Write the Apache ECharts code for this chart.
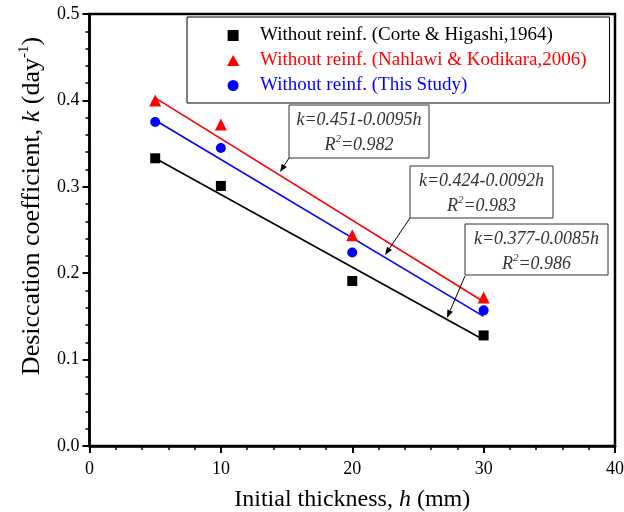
<!DOCTYPE html>
<html>
<head>
<meta charset="utf-8">
<script src="https://cdn.jsdelivr.net/npm/echarts@6/dist/echarts.min.js"></script>
<style>html,body{margin:0;padding:0;background:#fff;}#c{width:624px;height:512px;}</style>
</head>
<body>
<div id="c"></div>
<script>
// ---- data ----
const thickness = [5, 10, 20, 30];
const corteK    = [0.333, 0.301, 0.191, 0.128];
const nahlawiK  = [0.400, 0.372, 0.244, 0.172];
const studyK    = [0.375, 0.345, 0.224, 0.157];
const fitX      = [5, 30];
const corteFit   = [0.333, 0.123];
const nahlawiFit = [0.403, 0.167];
const studyFit   = [0.377, 0.150];
const seriesNames = [
  'Without reinf. (Corte & Higashi,1964)',
  'Without reinf. (Nahlawi & Kodikara,2006)',
  'Without reinf. (This Study)'
];
const eqLines = ['k=0.451-0.0095h', 'k=0.424-0.0092h', 'k=0.377-0.0085h'];
const r2Values = ['0.982', '0.983', '0.986'];
const xTicks = [0, 10, 20, 30, 40];
const yTicks = [0.0, 0.1, 0.2, 0.3, 0.4, 0.5];

const FONT = '"Liberation Serif", "Times New Roman", serif';
const colors = ['#000000', '#ff0000', '#0000ff'];
const pair = (xs, ys) => xs.map((x, i) => [x, ys[i]]);

const chart = echarts.init(document.getElementById('c'), null, {renderer: 'canvas'});

// annotation boxes (pixel layout)
const boxes = [
  {x: 289, y: 105, w: 140, h: 53, from: [289, 158], to: [280, 172]},
  {x: 410, y: 166, w: 143, h: 52, from: [410, 218], to: [385, 255]},
  {x: 465, y: 224, w: 143, h: 51, from: [465, 276], to: [447, 318]}
];
const graphics = [];
boxes.forEach((b, i) => {
  graphics.push({type: 'rect', shape: {x: b.x, y: b.y, width: b.w, height: b.h},
    style: {fill: '#fff', stroke: '#333', lineWidth: 1}, z: 10});
  graphics.push({type: 'text', x: b.x + b.w / 2, y: b.y + 15, z: 11,
    style: {text: eqLines[i], fontFamily: FONT, fontSize: 18, fontStyle: 'italic', fill: '#333',
      align: 'center', verticalAlign: 'middle'}});
  graphics.push({type: 'text', x: b.x + b.w / 2, y: b.y + 39, z: 11,
    style: {text: '{n|R}{s|2}{n|=' + r2Values[i] + '}', align: 'center', verticalAlign: 'middle',
      rich: {
        n: {fontFamily: FONT, fontSize: 18, fontStyle: 'italic', fill: '#333', color: '#333', lineHeight: 20, verticalAlign: 'bottom'},
        s: {fontFamily: FONT, fontSize: 11, fontStyle: 'italic', fill: '#333', color: '#333', lineHeight: 20, verticalAlign: 'top'}
      }}});
  // arrow
  const [x1, y1] = b.from, [x2, y2] = b.to;
  const dx = x2 - x1, dy = y2 - y1, L = Math.sqrt(dx * dx + dy * dy);
  const ux = dx / L, uy = dy / L, hl = 8, hw = 3;
  const bx = x2 - ux * hl, by = y2 - uy * hl;
  graphics.push({type: 'line', shape: {x1: x1, y1: y1, x2: bx, y2: by}, style: {stroke: '#000', lineWidth: 1}, z: 12});
  graphics.push({type: 'polygon', shape: {points: [[x2, y2], [bx - uy * hw, by + ux * hw], [bx + uy * hw, by - ux * hw]]},
    style: {fill: '#000'}, z: 12});
});
// y axis title
graphics.push({type: 'text', x: 31, y: 206, rotation: Math.PI / 2, z: 5,
  style: {text: '{n|Desiccation coefficient, }{i|k}{n| (day}{s|-1}{n|)}', align: 'center', verticalAlign: 'middle',
    rich: {
      n: {fontFamily: FONT, fontSize: 26, color: '#000', fill: '#000', lineHeight: 28, verticalAlign: 'bottom'},
      i: {fontFamily: FONT, fontSize: 26, fontStyle: 'italic', color: '#000', fill: '#000', lineHeight: 28, verticalAlign: 'bottom'},
      s: {fontFamily: FONT, fontSize: 15, color: '#000', fill: '#000', lineHeight: 28, verticalAlign: 'top'}
    }}});

const scatterSymbols = ['rect', 'triangle', 'circle'];
const scatterSizes = [10, 12, 10];
const scatterData = [corteK, nahlawiK, studyK];
const fitData = [corteFit, nahlawiFit, studyFit];
const legendIcons = ['path://M0,0L10,0L10,10L0,10Z', 'path://M5,0L10,9L0,9Z', 'circle'];

const series = [];
fitData.forEach((f, i) => {
  series.push({type: 'line', name: 'fit' + i, data: pair(fitX, f), symbol: 'none',
    lineStyle: {color: colors[i], width: 1.6}, silent: true, z: 2, animation: false});
});
scatterData.forEach((d, i) => {
  series.push({type: 'scatter', name: seriesNames[i], data: pair(thickness, d),
    symbol: scatterSymbols[i], symbolSize: scatterSizes[i],
    itemStyle: {color: colors[i], opacity: 1}, z: 3, animation: false});
});

chart.setOption({
  animation: false,
  backgroundColor: '#fff',
  grid: {left: 89.5, right: 9, top: 14, bottom: 66, show: true, borderColor: '#000', borderWidth: 2.5,
    containLabel: false, outerBoundsMode: 'none'},
  legend: {
    left: 187, top: 17, orient: 'vertical',
    data: seriesNames.map((n, i) => ({name: n, icon: legendIcons[i], textStyle: {color: colors[i]}})),
    itemWidth: 44, itemHeight: 11, itemGap: 6,
    padding: [9, 23, 8, 40],
    borderColor: '#000', borderWidth: 1, backgroundColor: '#fff',
    textStyle: {fontFamily: FONT, fontSize: 19, lineHeight: 19},
    selectedMode: false, z: 20
  },
  xAxis: {
    type: 'value', min: xTicks[0], max: xTicks[xTicks.length - 1], interval: 10,
    name: 'Initial thickness, {i|h} (mm)', nameLocation: 'middle', nameGap: 42,
    nameTextStyle: {fontFamily: FONT, fontSize: 24, color: '#000',
      rich: {i: {fontFamily: FONT, fontSize: 24, fontStyle: 'italic', color: '#000'}}},
    axisLine: {show: true, onZero: false, lineStyle: {color: '#000', width: 2.5}},
    axisTick: {show: true, inside: false, length: 7, lineStyle: {color: '#000', width: 2}},
    minorTick: {show: true, splitNumber: 5, length: 4, lineStyle: {color: '#000', width: 1.5}},
    splitLine: {show: false}, minorSplitLine: {show: false},
    axisLabel: {fontFamily: FONT, fontSize: 18, color: '#000', margin: 14,
      formatter: v => xTicks.includes(v) ? String(v) : ''}
  },
  yAxis: {
    type: 'value', min: yTicks[0], max: yTicks[yTicks.length - 1], interval: 0.1,
    axisLine: {show: true, onZero: false, lineStyle: {color: '#000', width: 2.5}},
    axisTick: {show: true, inside: false, length: 7, lineStyle: {color: '#000', width: 2}},
    minorTick: {show: true, splitNumber: 5, length: 4, lineStyle: {color: '#000', width: 1.5}},
    splitLine: {show: false}, minorSplitLine: {show: false},
    axisLabel: {fontFamily: FONT, fontSize: 18, color: '#000', margin: 10,
      formatter: v => v.toFixed(1)}
  },
  graphic: graphics,
  series: series
});
</script>
</body>
</html>
